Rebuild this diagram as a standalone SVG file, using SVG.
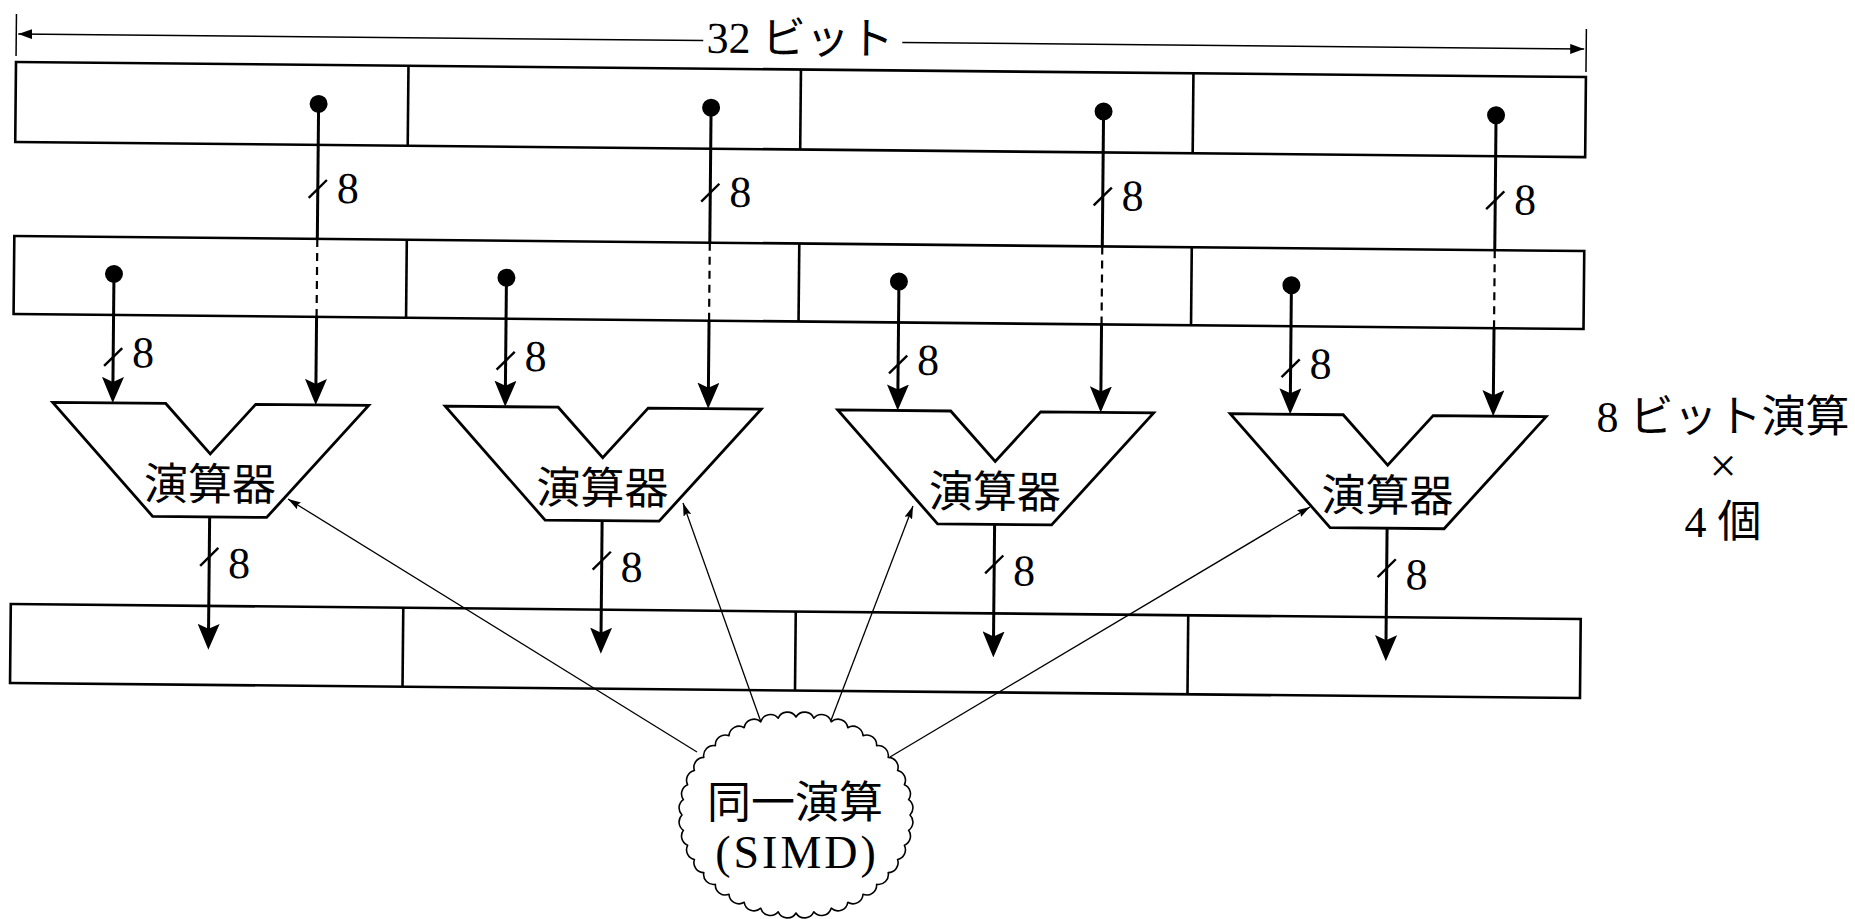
<svg xmlns="http://www.w3.org/2000/svg" width="1855" height="919" viewBox="0 0 1855 919">
<defs>
<style>
.reg{fill:none;stroke:#000;stroke-width:2.6}
.alu{fill:#fff;stroke:#000;stroke-width:2.8;stroke-linejoin:miter}
.bus{stroke:#000;stroke-width:3;fill:none}
.dash{stroke:#000;stroke-width:2.2;stroke-dasharray:8 6;fill:none}
.slash{stroke:#000;stroke-width:2.4}
.thin{stroke:#000;stroke-width:1.3;fill:none}
.dim{stroke:#000;stroke-width:1.5;fill:none}
.dot{fill:#000}
.txt{font-family:"Liberation Serif","Noto Sans CJK JP",serif;font-size:44px;fill:#000}
.cloud{fill:#fff;stroke:#000;stroke-width:1.6;stroke-linejoin:round}
</style>
<marker id="ah" markerUnits="userSpaceOnUse" markerWidth="26" markerHeight="22" refX="14" refY="11" orient="auto"><path d="M26,11 L0,0 L5,11 L0,22 Z" fill="#000"/></marker>
<marker id="sh" markerUnits="userSpaceOnUse" markerWidth="13" markerHeight="8" refX="13" refY="4" orient="auto"><path d="M13,4 L0,0 L2,4 L0,8 Z" fill="#000"/></marker>
<marker id="dh" markerUnits="userSpaceOnUse" markerWidth="14" markerHeight="10" refX="14" refY="5" orient="auto-start-reverse"><path d="M14,5 L0,0 L0,10 Z" fill="#000"/></marker>
<polygon id="aluShape" class="alu" points="-158,0 -45,0 0,50 45,0 158,0 57,113 -57,113"/>
</defs>
<rect width="1855" height="919" fill="#fff"/>

<g transform="rotate(0.55 16 62)">
  <g id="dimension">
    <line class="dim" x1="16" y1="14" x2="16" y2="56"/>
    <line class="dim" x1="1586" y1="14" x2="1586" y2="57"/>
    <line class="dim" x1="703" y1="34" x2="18" y2="34" marker-end="url(#dh)"/>
    <line class="dim" x1="902" y1="34" x2="1584" y2="34" marker-end="url(#dh)"/>
    <text class="txt" x="800" y="46" text-anchor="middle">32 ビット</text>
  </g>

  <g id="reg-source-a">
    <rect class="reg" x="16" y="62" width="1570" height="80"/>
    <line class="reg" x1="408.5" y1="62" x2="408.5" y2="142"/>
    <line class="reg" x1="801" y1="62" x2="801" y2="142"/>
    <line class="reg" x1="1193.5" y1="62" x2="1193.5" y2="142"/>
  </g>
  <g id="reg-source-b">
    <rect class="reg" x="16" y="236" width="1570" height="78"/>
    <line class="reg" x1="408.5" y1="236" x2="408.5" y2="314"/>
    <line class="reg" x1="801" y1="236" x2="801" y2="314"/>
    <line class="reg" x1="1193.5" y1="236" x2="1193.5" y2="314"/>
  </g>
  <g id="reg-result">
    <rect class="reg" x="16" y="604" width="1570" height="79"/>
    <line class="reg" x1="408.5" y1="604" x2="408.5" y2="683"/>
    <line class="reg" x1="801" y1="604" x2="801" y2="683"/>
    <line class="reg" x1="1193.5" y1="604" x2="1193.5" y2="683"/>
  </g>

  <g id="connectors">
    <!-- ALU 1 -->
    <circle class="dot" cx="319" cy="101" r="9"/>
    <line class="bus" x1="319" y1="101" x2="319" y2="236"/>
    <line class="dash" x1="319" y1="236" x2="319" y2="314"/>
    <line class="bus" x1="319" y1="314" x2="319" y2="390" marker-end="url(#ah)"/>
    <line class="slash" x1="310" y1="195" x2="328" y2="177"/>
    <text class="txt" x="338" y="200">8</text>
    <circle class="dot" cx="116" cy="273" r="9"/>
    <line class="bus" x1="116" y1="273" x2="116" y2="390" marker-end="url(#ah)"/>
    <line class="slash" x1="107" y1="365" x2="125" y2="347"/>
    <text class="txt" x="135" y="366">8</text>
    <line class="bus" x1="214" y1="515" x2="214" y2="636" marker-end="url(#ah)"/>
    <line class="slash" x1="205" y1="564" x2="223" y2="546"/>
    <text class="txt" x="233" y="576">8</text>

    <!-- ALU 2 -->
    <circle class="dot" cx="711.5" cy="101" r="9"/>
    <line class="bus" x1="711.5" y1="101" x2="711.5" y2="236"/>
    <line class="dash" x1="711.5" y1="236" x2="711.5" y2="314"/>
    <line class="bus" x1="711.5" y1="314" x2="711.5" y2="390" marker-end="url(#ah)"/>
    <line class="slash" x1="702.5" y1="195" x2="720.5" y2="177"/>
    <text class="txt" x="730.5" y="200">8</text>
    <circle class="dot" cx="508.5" cy="273" r="9"/>
    <line class="bus" x1="508.5" y1="273" x2="508.5" y2="390" marker-end="url(#ah)"/>
    <line class="slash" x1="499.5" y1="365" x2="517.5" y2="347"/>
    <text class="txt" x="527.5" y="366">8</text>
    <line class="bus" x1="606.5" y1="515" x2="606.5" y2="636" marker-end="url(#ah)"/>
    <line class="slash" x1="597.5" y1="564" x2="615.5" y2="546"/>
    <text class="txt" x="625.5" y="576">8</text>

    <!-- ALU 3 -->
    <circle class="dot" cx="1104" cy="101" r="9"/>
    <line class="bus" x1="1104" y1="101" x2="1104" y2="236"/>
    <line class="dash" x1="1104" y1="236" x2="1104" y2="314"/>
    <line class="bus" x1="1104" y1="314" x2="1104" y2="390" marker-end="url(#ah)"/>
    <line class="slash" x1="1095" y1="195" x2="1113" y2="177"/>
    <text class="txt" x="1123" y="200">8</text>
    <circle class="dot" cx="901" cy="273" r="9"/>
    <line class="bus" x1="901" y1="273" x2="901" y2="390" marker-end="url(#ah)"/>
    <line class="slash" x1="892" y1="365" x2="910" y2="347"/>
    <text class="txt" x="920" y="366">8</text>
    <line class="bus" x1="999" y1="515" x2="999" y2="636" marker-end="url(#ah)"/>
    <line class="slash" x1="990" y1="564" x2="1008" y2="546"/>
    <text class="txt" x="1018" y="576">8</text>

    <!-- ALU 4 -->
    <circle class="dot" cx="1496.5" cy="101" r="9"/>
    <line class="bus" x1="1496.5" y1="101" x2="1496.5" y2="236"/>
    <line class="dash" x1="1496.5" y1="236" x2="1496.5" y2="314"/>
    <line class="bus" x1="1496.5" y1="314" x2="1496.5" y2="390" marker-end="url(#ah)"/>
    <line class="slash" x1="1487.5" y1="195" x2="1505.5" y2="177"/>
    <text class="txt" x="1515.5" y="200">8</text>
    <circle class="dot" cx="1293.5" cy="273" r="9"/>
    <line class="bus" x1="1293.5" y1="273" x2="1293.5" y2="390" marker-end="url(#ah)"/>
    <line class="slash" x1="1284.5" y1="365" x2="1302.5" y2="347"/>
    <text class="txt" x="1312.5" y="366">8</text>
    <line class="bus" x1="1391.5" y1="515" x2="1391.5" y2="636" marker-end="url(#ah)"/>
    <line class="slash" x1="1382.5" y1="564" x2="1400.5" y2="546"/>
    <text class="txt" x="1410.5" y="576">8</text>
  </g>

  <g id="alu1" transform="translate(214,402)">
    <use href="#aluShape"/>
    <text class="txt" x="0" y="96" text-anchor="middle">演算器</text>
  </g>
  <g id="alu2" transform="translate(606.5,402)">
    <use href="#aluShape"/>
    <text class="txt" x="0" y="96" text-anchor="middle">演算器</text>
  </g>
  <g id="alu3" transform="translate(999,402)">
    <use href="#aluShape"/>
    <text class="txt" x="0" y="96" text-anchor="middle">演算器</text>
  </g>
  <g id="alu4" transform="translate(1391.5,402)">
    <use href="#aluShape"/>
    <text class="txt" x="0" y="96" text-anchor="middle">演算器</text>
  </g>
</g>

<g id="simd-connectors">
  <line class="thin" x1="697" y1="752" x2="288" y2="499" marker-end="url(#sh)"/>
  <line class="thin" x1="762" y1="725" x2="683" y2="503" marker-end="url(#sh)"/>
  <line class="thin" x1="830" y1="723" x2="913" y2="506" marker-end="url(#sh)"/>
  <line class="thin" x1="890" y1="757" x2="1310" y2="507" marker-end="url(#sh)"/>
</g>

<g id="simd">
  <path class="cloud" d="M910,815 A10,10 0 0 1 908.6,830.3 A10,10 0 0 1 904.4,845.3 A10,10 0 0 1 897.6,859.5 A10,10 0 0 1 888.2,872.6 A10,10 0 0 1 876.6,884.3 A10,10 0 0 1 863,894.3 A10,10 0 0 1 847.8,902.3 A10,10 0 0 1 831.2,908.2 A10,10 0 0 1 813.8,911.8 A10,10 0 0 1 796,913 A10,10 0 0 1 778.2,911.8 A10,10 0 0 1 760.8,908.2 A10,10 0 0 1 744.2,902.3 A10,10 0 0 1 729,894.3 A10,10 0 0 1 715.4,884.3 A10,10 0 0 1 703.8,872.6 A10,10 0 0 1 694.4,859.5 A10,10 0 0 1 687.6,845.3 A10,10 0 0 1 683.4,830.3 A10,10 0 0 1 682,815 A10,10 0 0 1 683.4,799.7 A10,10 0 0 1 687.6,784.7 A10,10 0 0 1 694.4,770.5 A10,10 0 0 1 703.8,757.4 A10,10 0 0 1 715.4,745.7 A10,10 0 0 1 729,735.7 A10,10 0 0 1 744.2,727.7 A10,10 0 0 1 760.8,721.8 A10,10 0 0 1 778.2,718.2 A10,10 0 0 1 796,717 A10,10 0 0 1 813.8,718.2 A10,10 0 0 1 831.2,721.8 A10,10 0 0 1 847.8,727.7 A10,10 0 0 1 863,735.7 A10,10 0 0 1 876.6,745.7 A10,10 0 0 1 888.2,757.4 A10,10 0 0 1 897.6,770.5 A10,10 0 0 1 904.4,784.7 A10,10 0 0 1 908.6,799.7 A10,10 0 0 1 910,815 Z"/>
  <text class="txt" x="795" y="818" text-anchor="middle">同一演算</text>
  <text class="txt" x="797" y="868" text-anchor="middle" style="font-size:46px;letter-spacing:3px">(SIMD)</text>
</g>

<g id="note">
  <text class="txt" x="1723" y="432" text-anchor="middle">8 ビット演算</text>
  <text class="txt" x="1723" y="482" text-anchor="middle" style="font-size:48px">×</text>
  <text class="txt" x="1723" y="537" text-anchor="middle">4 個</text>
</g>
</svg>
